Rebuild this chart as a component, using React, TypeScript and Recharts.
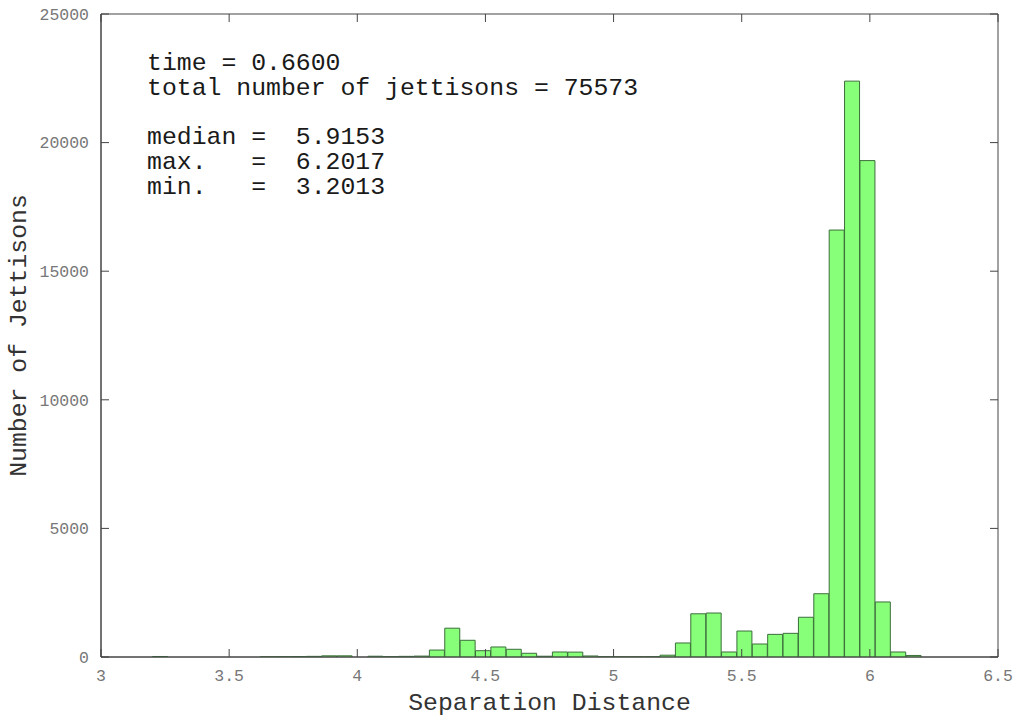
import React from "react";
import { BarChart, Bar, XAxis, YAxis, ReferenceArea } from "recharts";

// bin centers (bin width ~0.06, from min 3.2013 to max 6.2017)
const binCenters = [
  3.2313, 3.2913, 3.3513, 3.4113, 3.4713, 3.5313, 3.5913, 3.6513, 3.7113, 3.7713,
  3.8313, 3.8913, 3.9513, 4.0113, 4.0713, 4.1313, 4.1913, 4.2513, 4.3113, 4.3713,
  4.4313, 4.4913, 4.5513, 4.6113, 4.6713, 4.7313, 4.7913, 4.8513, 4.9113, 4.9713,
  5.0313, 5.0913, 5.1513, 5.2113, 5.2713, 5.3313, 5.3913, 5.4513, 5.5113, 5.5713,
  5.6313, 5.6913, 5.7513, 5.8113, 5.8713, 5.9313, 5.9913, 6.0513, 6.1113, 6.1713,
];

const counts = [
  20, 0, 0, 0, 0, 0, 0, 5, 10, 15,
  25, 45, 45, 0, 30, 10, 25, 35, 270, 1120,
  650, 245, 390, 300, 145, 30, 195, 190, 40, 10,
  5, 5, 10, 70, 545, 1680, 1710, 195, 1010, 505,
  880, 920, 1545, 2460, 16600, 22390, 19300, 2140, 195, 60,
];

const xTicks = [3, 3.5, 4, 4.5, 5, 5.5, 6, 6.5];
const yTicks = [0, 5000, 10000, 15000, 20000, 25000];

const infoLines = [
  "time = 0.6600",
  "total number of jettisons = 75573",
  "",
  "median =  5.9153",
  "max.   =  6.2017",
  "min.   =  3.2013",
];

const xTitle = "Separation Distance";
const yTitle = "Number of Jettisons";

const data = binCenters.map((x, i) => ({ x, count: counts[i] }));

const W = 1017;
const H = 717;
const M = { top: 14, right: 19, bottom: 0, left: 0 };
const Y_AXIS_W = 101;
const X_AXIS_H = 60;
const PLOT_LEFT = M.left + Y_AXIS_W;
const PLOT_RIGHT = W - M.right;
const PLOT_TOP = M.top;
const PLOT_BOTTOM = H - M.bottom - X_AXIS_H;
const TICK_LEN = 8;
const TICK_MARGIN = 12;

const MONO = "'Liberation Mono', 'DejaVu Sans Mono', monospace";
const TICK_FONT = 16.5;
const TICK_COLOR = "#777";
const LINE_COLOR = "#444";

const XTick = (props: any) => {
  const { x, y, payload } = props;
  return (
    <g>
      <line x1={x} x2={x} y1={PLOT_BOTTOM} y2={PLOT_BOTTOM - TICK_LEN} stroke={LINE_COLOR} />
      <line x1={x} x2={x} y1={PLOT_TOP} y2={PLOT_TOP + TICK_LEN} stroke={LINE_COLOR} />
      <text x={x} y={y} dy="0.71em" textAnchor="middle" fontFamily={MONO} fontSize={TICK_FONT} fill={TICK_COLOR}>
        {payload.value}
      </text>
    </g>
  );
};

const YTick = (props: any) => {
  const { x, y, payload } = props;
  return (
    <g>
      <line x1={PLOT_LEFT} x2={PLOT_LEFT + TICK_LEN} y1={y} y2={y} stroke={LINE_COLOR} />
      <line x1={PLOT_RIGHT} x2={PLOT_RIGHT - TICK_LEN} y1={y} y2={y} stroke={LINE_COLOR} />
      <text x={x} y={y} dy="0.355em" textAnchor="end" fontFamily={MONO} fontSize={TICK_FONT} fill={TICK_COLOR}>
        {payload.value}
      </text>
    </g>
  );
};

export default function App() {
  return (
    <div style={{ position: "absolute", left: 0, top: 0, width: W, height: H, background: "#fff" }}>
      <BarChart width={W} height={H} data={data} margin={M} barCategoryGap={0} barGap={0}>
        <XAxis
          dataKey="x"
          type="number"
          domain={[3, 6.5]}
          ticks={xTicks}
          allowDataOverflow
          height={X_AXIS_H}
          axisLine={{ stroke: LINE_COLOR }}
          tickLine={false}
          tickSize={0}
          tickMargin={TICK_MARGIN}
          tick={<XTick />}
          label={{ value: xTitle, position: "insideBottom", offset: 7, style: { fontFamily: MONO, fontSize: 24.8, fill: "#333" } }}
        />
        <YAxis
          type="number"
          domain={[0, 25000]}
          ticks={yTicks}
          allowDataOverflow
          width={Y_AXIS_W}
          axisLine={{ stroke: LINE_COLOR }}
          tickLine={false}
          tickSize={0}
          tickMargin={TICK_MARGIN}
          tick={<YTick />}
          label={{
            value: yTitle,
            angle: -90,
            position: "insideLeft",
            offset: 17,
            style: { fontFamily: MONO, fontSize: 24.8, fill: "#333", textAnchor: "middle" },
          }}
        />
        <Bar dataKey="count" fill="#88ff78" stroke="#3b6e3b" strokeWidth={1} isAnimationActive={false} />
        <ReferenceArea x1={3} x2={6.5} y1={0} y2={25000} fill="none" fillOpacity={0} stroke={LINE_COLOR} strokeOpacity={1} ifOverflow="visible" />
      </BarChart>
      <div
        style={{
          position: "absolute",
          left: 147,
          top: 51,
          fontFamily: MONO,
          fontSize: 24.8,
          lineHeight: "24.8px",
          whiteSpace: "pre",
          color: "#1a1a1a",
        }}
      >
        {infoLines.map((l, i) => (
          <div key={i} style={{ height: 24.8 }}>{l}</div>
        ))}
      </div>
    </div>
  );
}
